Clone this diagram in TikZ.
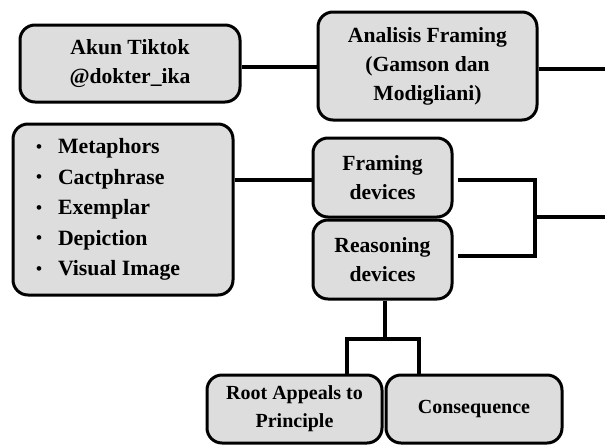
\documentclass[tikz,border=0pt]{standalone}
\usepackage{fontspec}
\setmainfont{Liberation Serif}
\definecolor{boxfill}{RGB}{221,221,221}
\newcommand{\lbul}{\makebox[26pt][l]{\hspace{4pt}\raisebox{1.5pt}{\fontsize{17}{17}\selectfont\textbullet}}}
\begin{document}
\begin{tikzpicture}[x=1pt,y=-1pt,
  box/.style={draw=black, line width=3pt, fill=boxfill, rounded corners=15pt,
    align=center, inner sep=0pt, font=\bfseries\fontsize{21.6}{29}\selectfont},
  smallbox/.style={box, font=\bfseries\fontsize{20}{28}\selectfont},
  conn/.style={draw=black, line width=4.2pt}]
\useasboundingbox (0,0) rectangle (605,445);
\node[box, minimum width=220pt, minimum height=77pt] (A) at (130,63.5) {Akun Tiktok\\@dokter\_ika};
\node[box, minimum width=219pt, minimum height=108pt] (B) at (427.5,66) {Analisis Framing\\(Gamson dan\\Modigliani)};
\node[box, minimum width=220pt, minimum height=171pt, text width=182pt, align=flush left,
      font=\bfseries\fontsize{21.8}{30.5}\selectfont] (C) at (123,209.5)
  {\lbul Metaphors\\
   \lbul Cactphrase\\
   \lbul Exemplar\\
   \lbul Depiction\\
   \lbul Visual Image};
\node[box, minimum width=139pt, minimum height=79pt] (F) at (382.5,177.5) {Framing\\devices};
\node[box, minimum width=139pt, minimum height=79pt] (R) at (382.5,259.5) {Reasoning\\devices};
\node[smallbox, minimum width=175pt, minimum height=68pt] (Root) at (294.5,409) {Root Appeals to\\Principle};
\node[smallbox, minimum width=176pt, minimum height=68pt] (Cons) at (474,409) {Consequence};
% connectors
\coordinate (ab) at (0,67);
\coordinate (bo) at (605,69);
\coordinate (cf) at (0,180);
\coordinate (bt) at (535,180);
\coordinate (bb) at (535,256);
\coordinate (J) at (535,217);
\coordinate (jo) at (605,217);
\coordinate (rv) at (385,339);
\coordinate (hl) at (347,339);
\coordinate (hr) at (419,339);
\draw[conn] (A.east |- ab) -- (B.west |- ab);
\draw[conn] (B.east |- bo) -- (bo);
\draw[conn] (C.east |- cf) -- (F.west |- cf);
\draw[conn, shorten <=4pt, shorten >=4pt] (F.east |- bt) -- (bt) -- (bb) -- (R.east |- bb);
\draw[conn] (J) -- (jo);
\draw[conn] (R.south -| rv) -- (rv);
\draw[conn] (Root.north -| hl) -- (hl) -- (hr) -- (Cons.north -| hr);
\end{tikzpicture}
\end{document}
